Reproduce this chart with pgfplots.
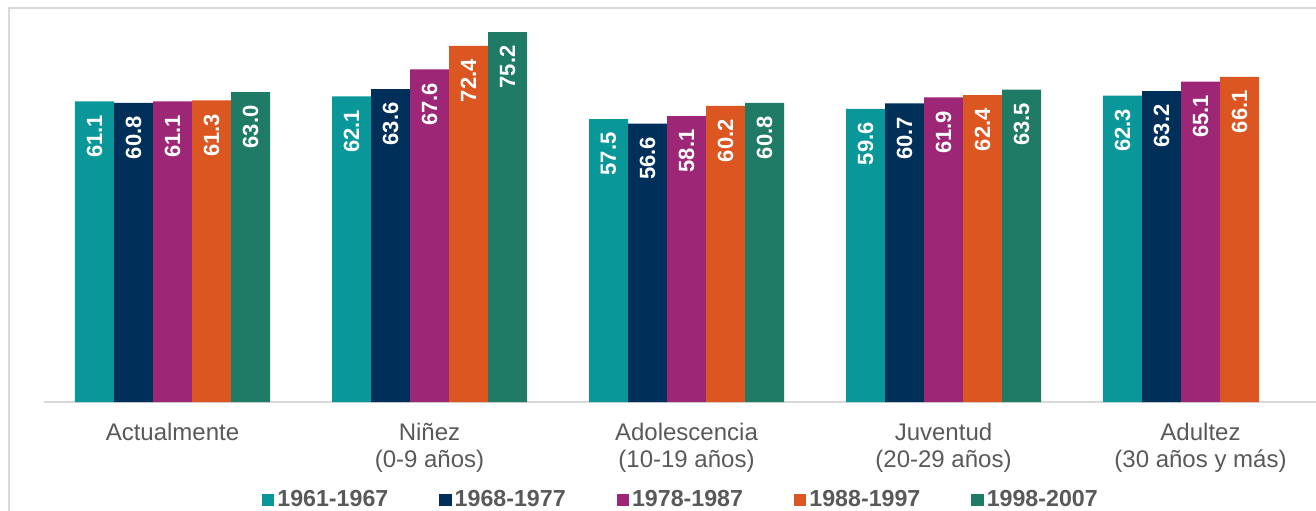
\documentclass[border=0pt]{standalone}
\usepackage{fontspec}
\setmainfont{Liberation Sans}
\usepackage{pgfplots}
\pgfplotsset{compat=1.18}
\definecolor{cA}{HTML}{0A979A}
\definecolor{cB}{HTML}{00305A}
\definecolor{cC}{HTML}{9E2677}
\definecolor{cD}{HTML}{DB5620}
\definecolor{cE}{HTML}{207B66}
\definecolor{txt}{HTML}{595959}
\definecolor{rule}{HTML}{D9D9D9}
\begin{document}
\begin{tikzpicture}
\useasboundingbox (0,0) rectangle (658pt,255pt);
\clip (0,0) rectangle (658pt,255pt);
% chart frame (cut at right and bottom)
\draw[rule, line width=0.8pt] (4.5pt,-10pt) -- (4.5pt,251pt) -- (700pt,251pt);
\begin{axis}[
  at={(22pt,54pt)}, anchor=south west,
  scale only axis, width=642.5pt, height=196.8pt,
  ybar=0pt, bar width=19.5pt,
  xmin=-0.5, xmax=4.5, ymin=0, ymax=80,
  axis x line*=bottom, axis y line=none,
  x axis line style={rule, line width=0.8pt, -},
  xtick={0,...,4}, major tick length=0pt,
  xticklabels={Actualmente, {Niñez\\(0-9 años)}, {Adolescencia\\(10-19 años)},
    {Juventud\\(20-29 años)}, {Adultez\\(30 años y más)}},
  xticklabel style={align=center, font=\fontsize{12}{13.5}\selectfont,
    text=txt, inner sep=0pt, yshift=-10.5pt},
  nodes near coords={\pgfmathprintnumber[fixed,fixed zerofill,precision=1,assume math mode=true]{\pgfplotspointmeta}},
  every node near coord/.append style={font=\fontsize{11}{13}\selectfont\bfseries,
    text=white, yshift=-6.5pt, rotate=90, anchor=east, inner sep=0pt},
  legend columns=5,
  legend image code/.code={\fill[#1] (0pt,-3.1pt) rectangle (6.2pt,3.1pt);},
  legend style={at={(0.496,-0.249)}, anchor=center, draw=none, fill=none,
    font=\fontsize{11.6}{13}\selectfont\bfseries, text=txt,
    nodes={inner xsep=1.5pt},
    /tikz/every even column/.append style={column sep=24pt}},
]
\addplot[fill=cA, draw=none] coordinates {(0,61.1) (1,62.1) (2,57.5) (3,59.6) (4,62.3)};
\addplot[fill=cB, draw=none] coordinates {(0,60.8) (1,63.6) (2,56.6) (3,60.7) (4,63.2)};
\addplot[fill=cC, draw=none] coordinates {(0,61.1) (1,67.6) (2,58.1) (3,61.9) (4,65.1)};
\addplot[fill=cD, draw=none] coordinates {(0,61.3) (1,72.4) (2,60.2) (3,62.4) (4,66.1)};
\addplot[fill=cE, draw=none] coordinates {(0,63.0) (1,75.2) (2,60.8) (3,63.5)};
\legend{1961-1967, 1968-1977, 1978-1987, 1988-1997, 1998-2007}
\end{axis}
\end{tikzpicture}
\end{document}
